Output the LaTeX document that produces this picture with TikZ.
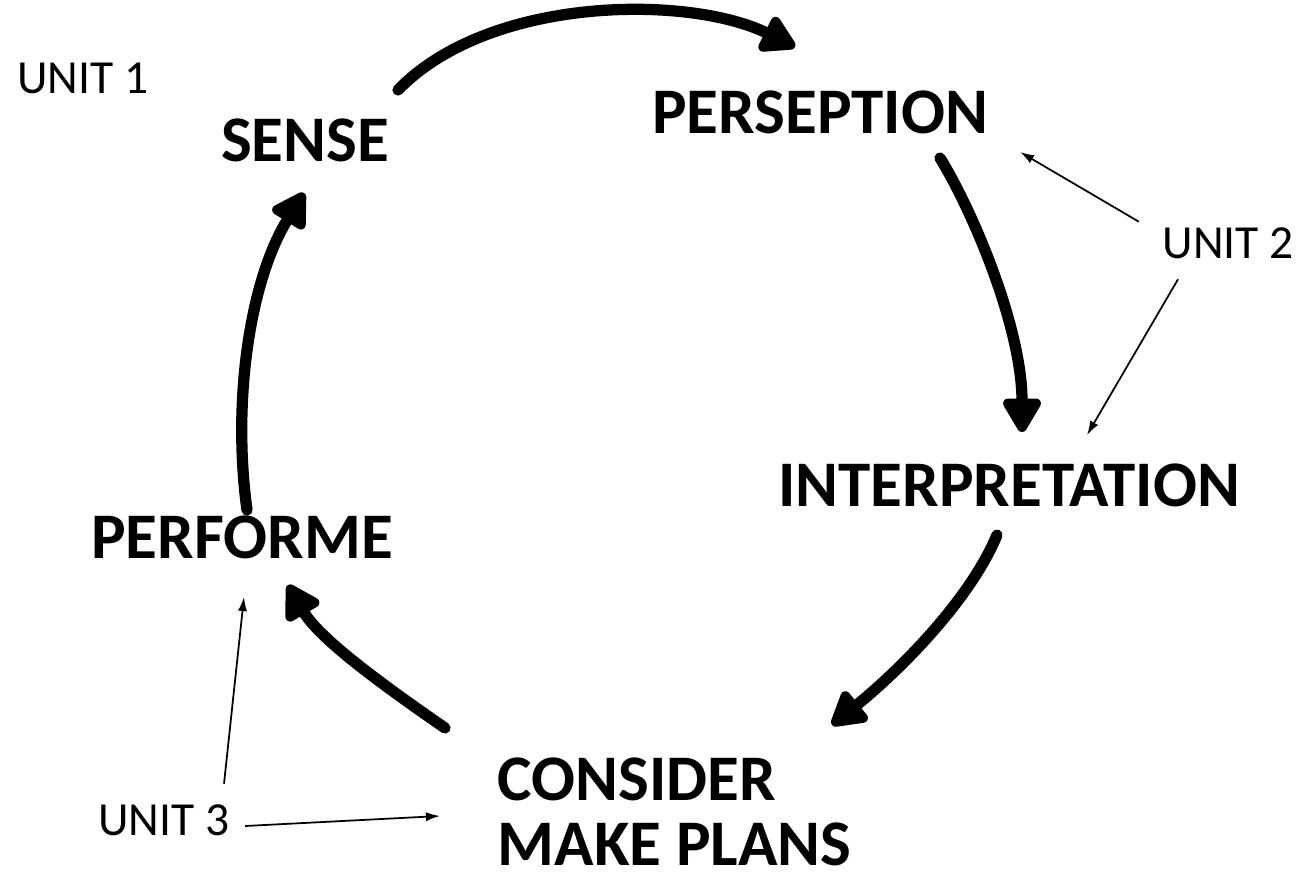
\documentclass[tikz,border=0pt]{standalone}
\usepackage{fontspec}
\setmainfont{Carlito}
\usetikzlibrary{arrows.meta}

\begin{document}
\begin{tikzpicture}[x=0.01cm, y=-0.01cm,
    big/.style={font=\fontsize{18.5}{20}\selectfont\bfseries, inner sep=0pt},
    lbl/.style={font=\fontsize{13.5}{15}\selectfont, inner sep=0pt},
    cyc/.style={line width=3.2pt, line cap=round, -{Triangle[length=11pt, width=12pt, round]}},
    ptr/.style={line width=0.5pt, -{Latex[length=4pt, width=2.6pt]}}]
        \useasboundingbox (0,0) rectangle (1301,880);
        % stages of the cycle
        \node[big] (sense) at (305,140) {SENSE};
        \node[big] (persep) at (820,112) {PERSEPTION};
        \node[big] (interp) at (1009,485) {INTERPRETATION};
        \node[big] (perf) at (242,537) {PERFORME};
        \node[big, anchor=west] (consider) at (497,779) {CONSIDER};
        \node[big, anchor=west] (plans) at (497,844) {MAKE PLANS};
        % units
        \node[lbl] (u1) at (83,78) {UNIT 1};
        \node[lbl] (u2) at (1228,243) {UNIT 2};
        \node[lbl] (u3) at (164,820) {UNIT 3};
        % ends of the big arrows
        \coordinate (a1) at (398,90);   \coordinate (b1) at (795,47);
        \coordinate (a2) at (940,158);  \coordinate (b2) at (1022,432);
        \coordinate (a3) at (997,535);  \coordinate (b3) at (832,725);
        \coordinate (a4) at (445,728);  \coordinate (b4) at (288,585);
        \coordinate (a5) at (247,510);  \coordinate (b5) at (304,193);
        \draw[cyc] (a1) .. controls (490,-5) and (690,-5) .. (b1);
        \draw[cyc] (a2) .. controls (975,215) and (1022,330) .. (b2);
        \draw[cyc] (a3) .. controls (970,600) and (900,670) .. (b3);
        \draw[cyc] (a4) .. controls (390,690) and (320,640) .. (b4);
        \draw[cyc] (a5) .. controls (232,400) and (250,280) .. (b5);
        % pointers from the units
        \coordinate (p1) at (1020,152);
        \coordinate (p2) at (1087,435);
        \coordinate (p3) at (244,597);
        \coordinate (p4) at (440,816);
        \draw[ptr] ([shift={(-23,-5)}]u2.north west) -- (p1);
        \draw[ptr] ([shift={(-50,20)}]u2.south) -- (p2);
        \draw[ptr] ([shift={(60,-20)}]u3.north) -- (p3);
        \draw[ptr] ([shift={(15,6)}]u3.east) -- (p4);
      \end{tikzpicture}
\end{document}
